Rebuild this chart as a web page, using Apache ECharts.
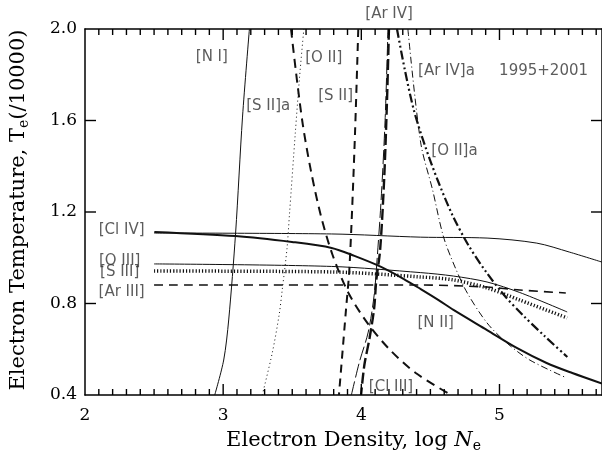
<!DOCTYPE html>
<html>
<head>
<meta charset="utf-8">
<script src="https://cdn.jsdelivr.net/npm/echarts@6/dist/echarts.min.js"></script>
<style>
  html, body { margin: 0; padding: 0; background: #fff; }
  #chart { width: 602px; height: 459px; }
</style>
</head>
<body>
<div id="chart"></div>
<script>
  var xMin = 2, xMax = 5.742, yMin = 0.4, yMax = 2.0

  // curves: [log Ne, Te/10000]
  var nI = [[2.939, 0.40], [3.004, 0.553], [3.04, 0.728], [3.09, 1.108], [3.14, 1.615], [3.19, 2.0]]
  var oII = [[3.283, 0.40], [3.355, 0.583], [3.405, 0.75], [3.43, 0.872], [3.462, 1.04], [3.48, 1.19], [3.522, 1.544], [3.553, 1.79], [3.584, 2.0]]
  var sIIa = [[3.491, 2.0], [3.534, 1.777], [3.577, 1.58], [3.634, 1.384], [3.706, 1.187], [3.792, 1.012], [3.907, 0.846], [4.05, 0.71], [4.208, 0.597], [4.394, 0.496], [4.624, 0.409]]
  var sII = [[3.978, 2.0], [3.95, 1.47], [3.914, 0.955], [3.89, 0.78], [3.838, 0.40]]
  var arIV = [[4.20, 2.0], [4.186, 1.69], [4.165, 1.34], [4.136, 1.034], [4.108, 0.90], [4.093, 0.78], [4.06, 0.65], [4.022, 0.531], [3.998, 0.40]]
  var clIII = [[3.928, 0.40], [3.986, 0.544], [4.05, 0.675], [4.093, 0.837], [4.115, 1.0], [4.143, 1.25], [4.172, 1.6], [4.193, 2.0]]
  var oIIa = [[4.258, 2.0], [4.315, 1.821], [4.38, 1.646], [4.459, 1.493], [4.552, 1.34], [4.659, 1.187], [4.774, 1.056], [4.903, 0.938], [5.039, 0.833], [5.176, 0.745], [5.326, 0.658], [5.491, 0.566]]
  var arIVa = [[4.337, 2.0], [4.43, 1.502], [4.516, 1.296], [4.595, 1.091], [4.681, 0.955], [4.767, 0.846], [4.91, 0.715], [5.054, 0.627], [5.219, 0.553], [5.47, 0.479]]
  var clIV = [[2.5, 1.108], [3.785, 1.104], [4.43, 1.09], [4.91, 1.086], [5.27, 1.064], [5.505, 1.025], [5.742, 0.981]]
  var nII = [[2.502, 1.113], [3.09, 1.095], [3.498, 1.069], [3.785, 1.043], [3.95, 1.008], [4.143, 0.96], [4.308, 0.907], [4.43, 0.863], [4.559, 0.815], [4.667, 0.772], [4.91, 0.684], [5.125, 0.606], [5.341, 0.54], [5.527, 0.496], [5.742, 0.45]]
  var oIII = [[2.5, 0.973], [3.785, 0.962], [4.43, 0.935], [4.667, 0.92], [4.91, 0.894], [5.147, 0.848], [5.49, 0.763]]
  var sIII = [[2.5, 0.942], [3.785, 0.938], [4.43, 0.916], [4.667, 0.903], [4.91, 0.868], [5.147, 0.815], [5.49, 0.737]]
  var arIII = [[2.5, 0.881], [4.43, 0.881], [4.91, 0.872], [5.147, 0.859], [5.48, 0.846]]

  // tick positions on the frame
  var xMajorTicks = [3, 4, 5]
  var xMinorTicks = [2.1, 2.2, 2.3, 2.4, 2.5, 2.6, 2.7, 2.8, 2.9, 3.1, 3.2, 3.3, 3.4, 3.5, 3.6, 3.7, 3.8, 3.9,
    4.1, 4.2, 4.3, 4.4, 4.5, 4.6, 4.7, 4.8, 4.9, 5.1, 5.2, 5.3, 5.4, 5.5, 5.6, 5.7]
  var yTicks = [0.8, 1.2, 1.6]

  // text labels placed in data coordinates
  var curveLabels = [
    ['[N I]', 2.918, 1.878], ['[S II]a', 3.326, 1.663], ['[O II]', 3.728, 1.873],
    ['[S II]', 3.814, 1.707], ['[Ar IV]', 4.201, 2.066], ['[Ar IV]a', 4.616, 1.816],
    ['1995+2001', 5.319, 1.816], ['[O II]a', 4.674, 1.467], ['[Cl IV]', 2.265, 1.121],
    ['[O III]', 2.251, 0.986], ['[S III]', 2.251, 0.938], ['[Ar III]', 2.265, 0.85],
    ['[N II]', 4.538, 0.715], ['[Cl III]', 4.215, 0.435]
  ]

  var serif = 'DejaVu Serif'
  var ink = '#111'

  function curve(name, data, width, type) {
    return {
      name: name,
      type: 'line',
      data: data,
      showSymbol: false,
      symbol: 'none',
      smooth: 0.3,
      silent: true,
      lineStyle: { color: ink, width: width, type: type, cap: 'butt' }
    }
  }

  // inward ticks on both sides of the frame, drawn as thin filled bars through the axes' scales
  function tickSeries(data, len, dir) {
    return {
      type: 'custom',
      silent: true,
      clip: false,
      z: 10,
      data: data,
      renderItem: function (params, api) {
        var bars = []
        var w = 1.4
        if (dir === 'x') {
          var b = api.coord([api.value(0), yMin]), t = api.coord([api.value(0), yMax])
          bars.push({ x: b[0] - w / 2, y: b[1] - len, width: w, height: len })
          bars.push({ x: t[0] - w / 2, y: t[1], width: w, height: len })
        } else {
          var l = api.coord([xMin, api.value(1)]), r = api.coord([xMax, api.value(1)])
          bars.push({ x: l[0], y: l[1] - w / 2, width: len, height: w })
          bars.push({ x: r[0] - len, y: r[1] - w / 2, width: len, height: w })
        }
        return {
          type: 'group',
          children: bars.map(function (s) {
            return { type: 'rect', shape: s, style: { fill: '#000' } }
          })
        }
      }
    }
  }

  var frameLine = { show: true, lineStyle: { color: '#000', width: 1.5 } }

  var chart = echarts.init(document.getElementById('chart'))
  chart.setOption({
    animation: false,
    backgroundColor: '#fff',
    grid: { left: 81, top: 29, width: 522, height: 366 },
    xAxis: [
      {
        type: 'value', position: 'bottom', min: xMin, max: xMax, interval: 1,
        axisLine: frameLine, axisTick: { show: false }, splitLine: { show: false },
        axisLabel: { margin: 12, fontFamily: serif, fontSize: 17, color: '#000', showMaxLabel: false },
        name: 'Electron Density, log {i|N}{s|e}',
        nameLocation: 'middle',
        nameGap: 33,
        nameTextStyle: {
          fontFamily: serif, fontSize: 21, color: '#000', padding: [0, 0, 0, 20],
          rich: {
            i: { fontFamily: serif, fontSize: 21, fontStyle: 'italic', color: '#000' },
            s: { fontFamily: serif, fontSize: 14, color: '#000', padding: [11, 0, 0, 0] }
          }
        }
      },
      {
        type: 'value', position: 'top', min: xMin, max: xMax, interval: 1,
        axisLine: frameLine, axisTick: { show: false }, axisLabel: { show: false }, splitLine: { show: false }
      }
    ],
    yAxis: [
      {
        type: 'value', position: 'left', min: yMin, max: yMax, interval: 0.4,
        axisLine: frameLine, axisTick: { show: false }, splitLine: { show: false },
        axisLabel: { margin: 8, fontFamily: serif, fontSize: 17, color: '#000', formatter: function (v) { return v.toFixed(1) } },
        name: 'Electron Temperature, T{s|e}(/10000)',
        nameLocation: 'middle',
        nameGap: 54,
        nameTextStyle: {
          fontFamily: serif, fontSize: 21, color: '#000', padding: [0, 0, 0, 4],
          rich: { s: { fontFamily: serif, fontSize: 14, color: '#000', padding: [11, 0, 0, 0] } }
        }
      },
      {
        type: 'value', position: 'right', min: yMin, max: yMax, interval: 0.4,
        axisLine: frameLine, axisTick: { show: false }, axisLabel: { show: false }, splitLine: { show: false }
      }
    ],
    series: [
      tickSeries(xMajorTicks.map(function (v) { return [v, 1] }), 11, 'x'),
      tickSeries(xMinorTicks.map(function (v) { return [v, 1] }), 6, 'x'),
      tickSeries(yTicks.map(function (v) { return [3, v] }), 11, 'y'),
      curve('[N I]', nI, 1, 'solid'),
      curve('[O II]', oII, 1, [1, 3]),
      curve('[S II]a', sIIa, 2, [9, 6]),
      curve('[S II]', sII, 2, [8, 6]),
      curve('[Ar IV]', arIV, 2.4, [11, 4]),
      curve('[Cl III]', clIII, 1, [14, 4]),
      curve('[O II]a', oIIa, 2.2, [9, 3, 2, 3, 2, 3]),
      curve('[Ar IV]a', arIVa, 1, [7, 3, 1, 3]),
      curve('[Cl IV]', clIV, 1, 'solid'),
      curve('[N II]', nII, 2, 'solid'),
      curve('[O III]', oIII, 1, 'solid'),
      curve('[S III]', sIII, 3.5, [1.2, 2]),
      curve('[Ar III]', arIII, 1.6, [9, 6]),
      {
        type: 'scatter',
        symbolSize: 0,
        clip: false,
        silent: true,
        data: curveLabels.map(function (l) { return { name: l[0], value: [l[1], l[2]] } }),
        label: {
          show: true, position: 'inside', formatter: '{b}',
          fontFamily: 'DejaVu Sans', fontSize: 15, color: '#333'
        }
      }
    ]
  })
</script>
</body>
</html>
